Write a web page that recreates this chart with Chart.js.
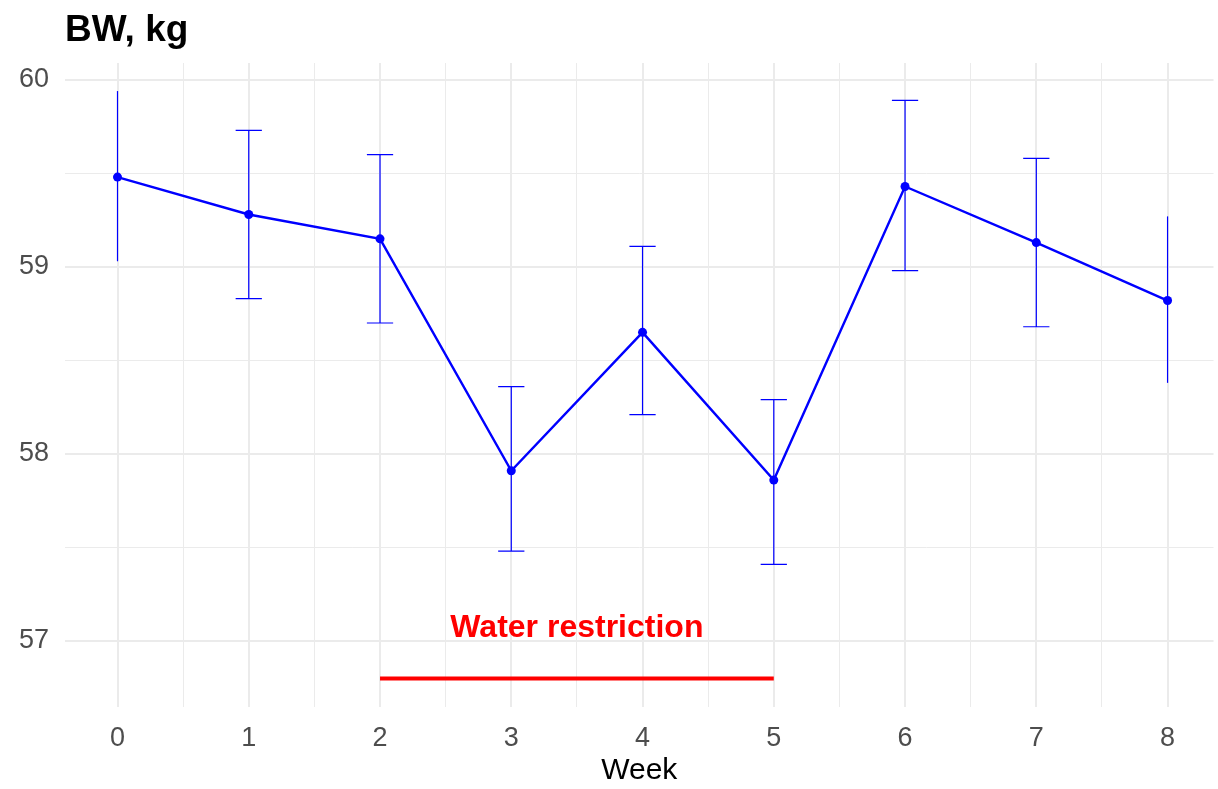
<!DOCTYPE html>
<html>
<head>
<meta charset="utf-8">
<script src="https://cdn.jsdelivr.net/npm/chart.js@4"></script>
<style>
  html, body { margin: 0; padding: 0; background: #fff; }
  #c { display: block; }
</style>
</head>
<body>
<canvas id="c" width="1218" height="789"></canvas>
<script>
// data
const weeks = [0, 1, 2, 3, 4, 5, 6, 7, 8];
const bwMean = [59.48, 59.28, 59.15, 57.91, 58.65, 57.86, 59.43, 59.13, 58.82];
const bwLow  = [59.03, 58.83, 58.70, 57.48, 58.21, 57.41, 58.98, 58.68, 58.38];
const bwHigh = [59.94, 59.73, 59.60, 58.36, 59.11, 58.29, 59.89, 59.58, 59.27];
const restrictWeeks = [2, 5];
const restrictLevel = 56.8;
const restrictLabel = 'Water restriction';
const xTicks = [0, 0.5, 1, 1.5, 2, 2.5, 3, 3.5, 4, 4.5, 5, 5.5, 6, 6.5, 7, 7.5, 8];
const yTicks = [57, 57.5, 58, 58.5, 59, 59.5, 60];

const FONT = '"Liberation Sans", Arial, sans-serif';

// error bars + annotation text + title
const extras = {
    id: 'extras',
    afterDatasetsDraw(chart) {
        const ctx = chart.ctx;
        const x = chart.scales.x, y = chart.scales.y;
        ctx.save();
        ctx.strokeStyle = '#0000ff';
        ctx.lineWidth = 1.2;
        weeks.forEach((w, i) => {
            const px = x.getPixelForValue(w);
            const top = y.getPixelForValue(bwHigh[i]);
            const bot = y.getPixelForValue(bwLow[i]);
            ctx.beginPath();
            ctx.moveTo(px, top); ctx.lineTo(px, bot);
            // caps (the end weeks have none in the original)
            if (w > weeks[0] && w < weeks[weeks.length - 1]) {
                const half = x.getPixelForValue(w + 0.1) - px;
                ctx.moveTo(px - half, top); ctx.lineTo(px + half, top);
                ctx.moveTo(px - half, bot); ctx.lineTo(px + half, bot);
            }
            ctx.stroke();
        });
        // annotation
        ctx.fillStyle = '#ff0000';
        ctx.font = 'bold 32px ' + FONT;
        ctx.textAlign = 'center';
        ctx.textBaseline = 'alphabetic';
        const mid = (restrictWeeks[0] + restrictWeeks[1]) / 2;
        ctx.fillText(restrictLabel, x.getPixelForValue(mid), y.getPixelForValue(57.02));
        // title
        ctx.fillStyle = '#000';
        ctx.font = 'bold 37px ' + FONT;
        ctx.textAlign = 'left';
        ctx.fillText('BW, kg', chart.chartArea.left, 41);
        ctx.restore();
    }
};

new Chart(document.getElementById('c'), {
    type: 'line',
    data: {
        datasets: [
            {
                data: weeks.map((w, i) => ({ x: w, y: bwMean[i] })),
                borderColor: '#0000ff',
                backgroundColor: '#0000ff',
                borderWidth: 2.4,
                pointRadius: 4.5,
                pointBorderWidth: 0,
                tension: 0
            },
            {
                data: restrictWeeks.map(w => ({ x: w, y: restrictLevel })),
                borderColor: '#ff0000',
                borderWidth: 4,
                pointRadius: 0,
                tension: 0
            }
        ]
    },
    options: {
        responsive: false,
        animation: false,
        layout: { padding: { top: 63, left: 0, right: 0, bottom: 0 } },
        plugins: {
            legend: { display: false },
            tooltip: { enabled: false }
        },
        scales: {
            x: {
                type: 'linear',
                min: -0.4,
                max: 8.35,
                afterBuildTicks: s => { s.ticks = xTicks.map(v => ({ value: v })); },
                afterFit: s => { s.height = 82; },
                border: { display: false },
                grid: {
                    drawTicks: false,
                    color: '#ebebeb',
                    lineWidth: c => (Number.isInteger(c.tick.value) ? 2 : 1)
                },
                ticks: {
                    padding: 15,
                    color: '#4d4d4d',
                    font: { family: FONT, size: 27 },
                    autoSkip: false,
                    maxRotation: 0,
                    callback: v => (Number.isInteger(v) ? String(v) : '')
                },
                title: {
                    display: true,
                    text: 'Week',
                    color: '#000',
                    font: { family: FONT, size: 30 },
                    padding: { top: 0, bottom: 0 }
                }
            },
            y: {
                type: 'linear',
                min: 56.647,
                max: 60.09,
                afterBuildTicks: s => { s.ticks = yTicks.map(v => ({ value: v })); },
                afterFit: s => { s.width = 65; },
                border: { display: false },
                grid: {
                    drawTicks: false,
                    color: '#ebebeb',
                    lineWidth: c => (Number.isInteger(c.tick.value) ? 2 : 1)
                },
                ticks: {
                    padding: 16,
                    color: '#4d4d4d',
                    font: { family: FONT, size: 27 },
                    autoSkip: false,
                    callback: v => (Number.isInteger(v) ? String(v) : '')
                }
            }
        }
    },
    plugins: [extras]
});
</script>
</body>
</html>
